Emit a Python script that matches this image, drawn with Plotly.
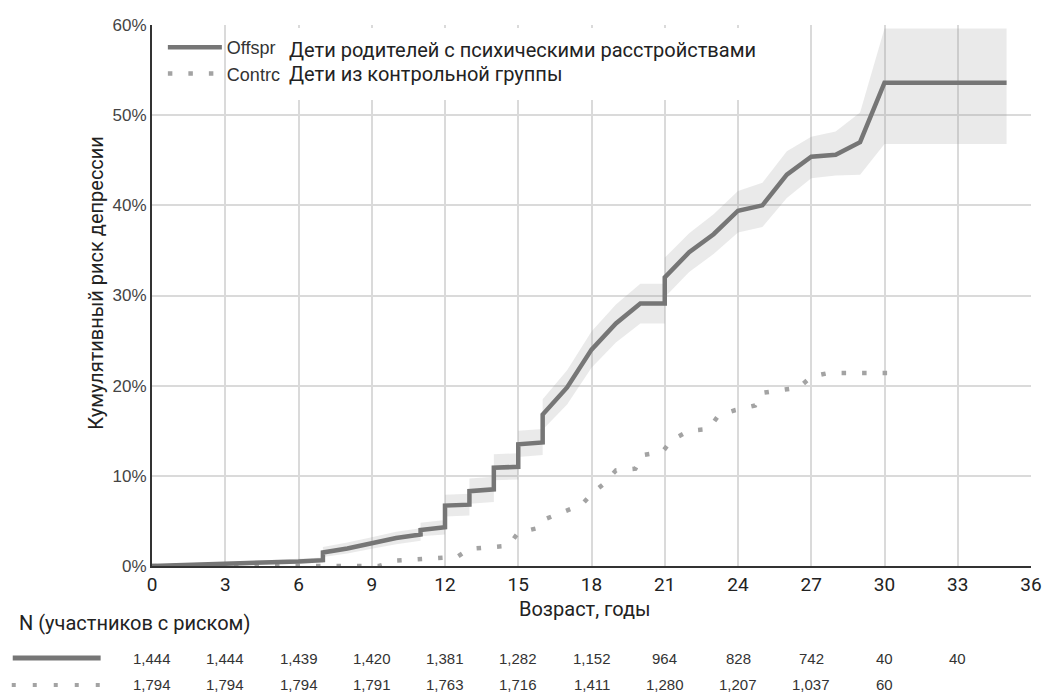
import plotly.graph_objects as go

# ---- data ----
ages = [0, 3, 6, 7, 7, 8, 9, 10, 11, 11, 12, 12, 13, 13, 14, 14, 15, 15, 16, 16,
        17, 18, 19, 20, 21, 21, 22, 23, 24, 25, 26, 27, 28, 29, 30, 35]
offspring = [0, 0.2, 0.5, 0.65, 1.5, 1.95, 2.5, 3.1, 3.5, 4.0, 4.3, 6.7, 6.8, 8.3, 8.5, 10.9, 11.0, 13.5, 13.7, 16.8,
             19.8, 24.0, 26.9, 29.1, 29.1, 32.0, 34.8, 36.8, 39.4, 40.0, 43.4, 45.4, 45.6, 47.0, 53.6, 53.6]
offspring_upper = [0.2, 0.45, 0.8, 0.95, 2.1, 2.6, 3.2, 3.8, 4.2, 4.8, 5.1, 7.9, 8.0, 9.7, 9.9, 12.4, 12.5, 15.0, 15.2, 18.5,
                   21.7, 26.0, 29.0, 31.3, 31.3, 34.2, 36.9, 39.0, 41.6, 42.5, 46.0, 47.6, 48.2, 50.3, 59.6, 59.6]
offspring_lower = [0, 0, 0.25, 0.35, 1.0, 1.4, 1.9, 2.4, 2.8, 3.3, 3.5, 5.5, 5.6, 6.9, 7.1, 9.5, 9.6, 12.1, 12.3, 15.1,
                   17.9, 22.0, 24.8, 26.9, 26.9, 29.8, 32.6, 34.6, 37.0, 37.6, 40.8, 43.0, 43.3, 43.4, 46.8, 46.8]

control_ages = [0, 9.3, 10, 11.6, 12.5, 13, 14.6, 15, 15.8, 16.1, 17, 17.6, 18, 18.5, 19,
                19.8, 20.1, 20.9, 21.3, 22, 22.8, 23.2, 23.9, 24.7, 25, 26.5, 27, 27.7, 30.2]
control = [0, 0, 0.6, 0.9, 1.0, 1.9, 2.25, 3.7, 4.2, 5.2, 6.15, 6.8, 8.0, 9.1, 10.6,
           10.8, 12.3, 12.65, 14.0, 15.0, 15.2, 16.7, 17.3, 17.8, 19.2, 19.8, 21.0, 21.4, 21.4]

risk_ages = [0, 3, 6, 9, 12, 15, 18, 21, 24, 27, 30, 33]
n_offspring = [1444, 1444, 1439, 1420, 1381, 1282, 1152, 964, 828, 742, 40, 40]
n_control = [1794, 1794, 1794, 1791, 1763, 1716, 1411, 1280, 1207, 1037, 60]

x_ticks = list(range(0, 37, 3))
y_ticks = [0, 10, 20, 30, 40, 50, 60]

legend_offspring_en = "Offspr"
legend_control_en = "Contrc"
legend_offspring_ru = "Дети родителей с психическими расстройствами"
legend_control_ru = "Дети из контрольной группы"
x_title = "Возраст, годы"
y_title = "Кумулятивный риск депрессии"
risk_title = "N (участников с риском)"

# ---- styling ----
RU_FONT = "Roboto, 'Noto Sans', sans-serif"
NUM_FONT = "'Liberation Sans', Arial, sans-serif"
LINE_COLOR = "#767676"
DOT_COLOR = "#a3a3a3"
GRID = "#dadada"

W, H = 1054, 693
L, R, T, B = 152, 12, 25, 127
PW, PH = W - L - R, H - T - B


def px_x(p):
    return (p - L) / PW


def px_y(p):
    return (H - B - p) / PH


fig = go.Figure()

fig.add_trace(go.Scatter(x=ages, y=offspring_lower, mode="lines", line=dict(width=0),
                         showlegend=False, hoverinfo="skip"))
fig.add_trace(go.Scatter(x=ages, y=offspring_upper, mode="lines", line=dict(width=0),
                         fill="tonexty", fillcolor="rgba(150,150,150,0.2)",
                         showlegend=False, hoverinfo="skip"))
fig.add_trace(go.Scatter(x=control_ages, y=control, mode="lines", name=legend_control_en,
                         line=dict(color=DOT_COLOR, width=4.5, dash="4.5px,16px")))
fig.add_trace(go.Scatter(x=ages, y=offspring, mode="lines", name=legend_offspring_en,
                         line=dict(color=LINE_COLOR, width=4.5)))

RU = dict(family=RU_FONT, size=20, color="#222")
annotations = []
annotations.append(dict(xref="paper", yref="paper", x=px_x(289), y=px_y(50), xanchor="left", yanchor="middle",
                        text=legend_offspring_ru, showarrow=False, font=RU))
annotations.append(dict(xref="paper", yref="paper", x=px_x(289), y=px_y(74), xanchor="left", yanchor="middle",
                        text=legend_control_ru, showarrow=False, font=RU))
annotations.append(dict(xref="paper", yref="paper", x=px_x(95), y=px_y(283), textangle=-90,
                        xanchor="center", yanchor="middle", text=y_title, showarrow=False, font=RU))
annotations.append(dict(xref="paper", yref="paper", x=px_x(590), y=px_y(609), xanchor="center", yanchor="middle",
                        text=x_title, showarrow=False, font=RU))
annotations.append(dict(xref="paper", yref="paper", x=px_x(15), y=px_y(623), xanchor="left", yanchor="middle",
                        text=risk_title, showarrow=False, font=RU))
for a, n in zip(risk_ages, n_offspring):
    annotations.append(dict(xref="x", yref="paper", x=a, y=px_y(658), xanchor="center", yanchor="middle",
                            text=f"{n:,}", showarrow=False, font=dict(family=NUM_FONT, size=15, color="#333")))
for a, n in zip(risk_ages, n_control):
    annotations.append(dict(xref="x", yref="paper", x=a, y=px_y(684), xanchor="center", yanchor="middle",
                            text=f"{n:,}", showarrow=False, font=dict(family=NUM_FONT, size=15, color="#333")))

shapes = [
    dict(type="rect", xref="paper", yref="paper", x0=px_x(285), x1=px_x(760), y0=px_y(100), y1=px_y(28),
         fillcolor="white", line=dict(width=0), layer="above"),
    dict(type="line", xref="paper", yref="paper", x0=px_x(11), x1=px_x(100), y0=px_y(658), y1=px_y(658),
         line=dict(color=LINE_COLOR, width=5)),
    dict(type="line", xref="paper", yref="paper", x0=px_x(10), x1=px_x(100), y0=px_y(685), y1=px_y(685),
         line=dict(color=DOT_COLOR, width=4, dash="4px,17px")),
]

fig.update_layout(
    width=W, height=H,
    margin=dict(l=L, r=R, t=T, b=B, pad=0),
    plot_bgcolor="white", paper_bgcolor="white",
    showlegend=True,
    legend=dict(x=px_x(163), y=px_y(29), xanchor="left", yanchor="top", bgcolor="rgba(0,0,0,0)",
                font=dict(family=NUM_FONT, size=18, color="#333"), traceorder="reversed",
                tracegroupgap=0, itemwidth=54),
    xaxis=dict(range=[0, 36], tickvals=x_ticks, ticktext=[str(v) for v in x_ticks],
               showgrid=True, gridcolor=GRID, gridwidth=2, zeroline=False,
               showline=True, linecolor="#333", linewidth=2, ticks="",
               tickfont=dict(family=RU_FONT, size=19, color="#222"), ticklabelstandoff=0),
    yaxis=dict(range=[0, 60], tickvals=y_ticks, ticktext=[f"{v}%" for v in y_ticks],
               showgrid=True, gridcolor=GRID, gridwidth=2, zeroline=False,
               showline=True, linecolor="#333", linewidth=2, ticks="",
               tickfont=dict(family=NUM_FONT, size=17, color="#444")),
    annotations=annotations,
    shapes=shapes,
)

fig.write_html("out.html")
